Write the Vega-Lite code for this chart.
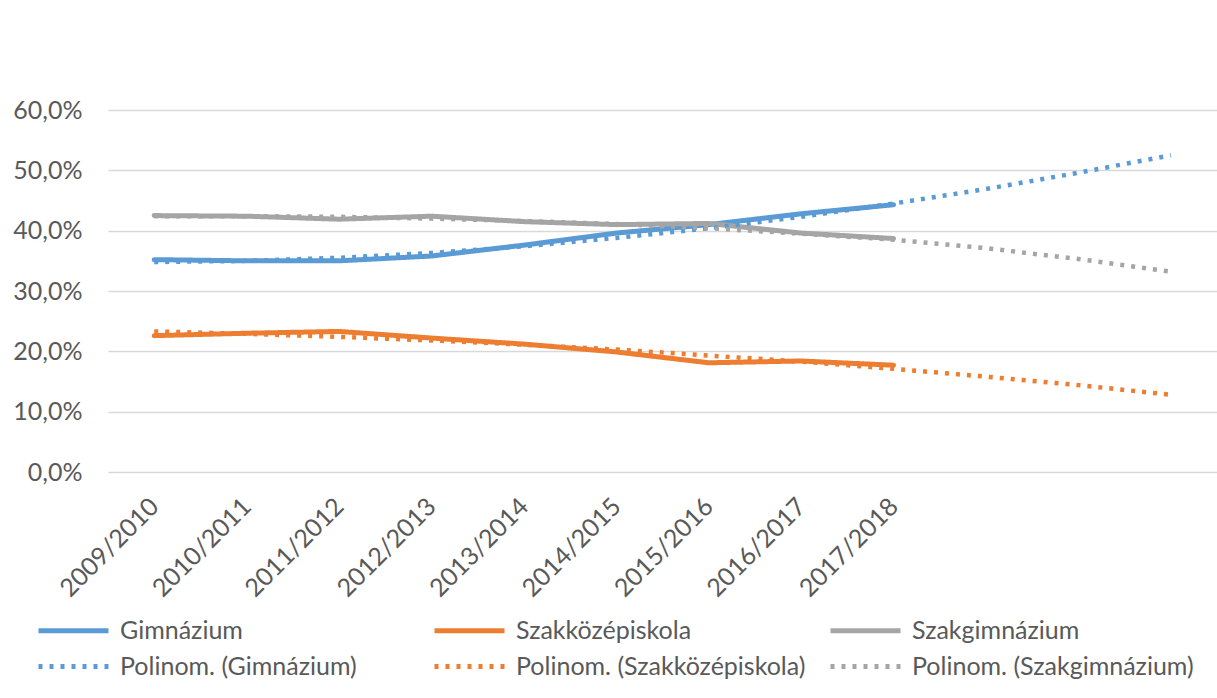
{
  "$schema": "https://vega.github.io/schema/vega-lite/v6.json",
  "autosize": "none",
  "width": 1109,
  "height": 362,
  "padding": {"left": 108, "top": 110, "right": 0, "bottom": 226},
  "background": "white",
  "config": {
    "view": {"stroke": null},
    "font": "Lato",
    "axis": {"labelFont": "Lato", "labelColor": "#595959", "labelFontSize": 25, "title": null},
    "legend": {
      "labelFont": "Lato",
      "labelFontSize": 25,
      "labelColor": "#595959",
      "symbolType": "M-3.5,0H3.5",
      "symbolSize": 400,
      "symbolStrokeWidth": 5,
      "labelOffset": 34,
      "columns": 3,
      "direction": "horizontal",
      "gridAlign": "all",
      "columnPadding": 14,
      "rowPadding": 10,
      "labelLimit": 400
    }
  },
  "layer": [
    {
      "data": {"values": [
        {"year": "2009/2010", "series": "Gimnázium", "value": 0.352},
        {"year": "2010/2011", "series": "Gimnázium", "value": 0.350},
        {"year": "2011/2012", "series": "Gimnázium", "value": 0.350},
        {"year": "2012/2013", "series": "Gimnázium", "value": 0.358},
        {"year": "2013/2014", "series": "Gimnázium", "value": 0.376},
        {"year": "2014/2015", "series": "Gimnázium", "value": 0.396},
        {"year": "2015/2016", "series": "Gimnázium", "value": 0.410},
        {"year": "2016/2017", "series": "Gimnázium", "value": 0.428},
        {"year": "2017/2018", "series": "Gimnázium", "value": 0.443},
        {"year": "2009/2010", "series": "Szakközépiskola", "value": 0.226},
        {"year": "2010/2011", "series": "Szakközépiskola", "value": 0.230},
        {"year": "2011/2012", "series": "Szakközépiskola", "value": 0.233},
        {"year": "2012/2013", "series": "Szakközépiskola", "value": 0.222},
        {"year": "2013/2014", "series": "Szakközépiskola", "value": 0.212},
        {"year": "2014/2015", "series": "Szakközépiskola", "value": 0.199},
        {"year": "2015/2016", "series": "Szakközépiskola", "value": 0.181},
        {"year": "2016/2017", "series": "Szakközépiskola", "value": 0.184},
        {"year": "2017/2018", "series": "Szakközépiskola", "value": 0.177},
        {"year": "2009/2010", "series": "Szakgimnázium", "value": 0.425},
        {"year": "2010/2011", "series": "Szakgimnázium", "value": 0.424},
        {"year": "2011/2012", "series": "Szakgimnázium", "value": 0.419},
        {"year": "2012/2013", "series": "Szakgimnázium", "value": 0.424},
        {"year": "2013/2014", "series": "Szakgimnázium", "value": 0.415},
        {"year": "2014/2015", "series": "Szakgimnázium", "value": 0.410},
        {"year": "2015/2016", "series": "Szakgimnázium", "value": 0.412},
        {"year": "2016/2017", "series": "Szakgimnázium", "value": 0.396},
        {"year": "2017/2018", "series": "Szakgimnázium", "value": 0.387}
      ]},
      "mark": {"type": "line", "strokeWidth": 5, "strokeCap": "round", "strokeJoin": "round"},
      "encoding": {
        "x": {"field": "year", "type": "ordinal"},
        "y": {"field": "value", "type": "quantitative"},
        "color": {"field": "series", "type": "nominal"},
        "strokeDash": {"field": "series", "type": "nominal"}
      }
    },
    {
      "data": {"values": [
        {"year": "2009/2010", "series": "Polinom. (Gimnázium)", "value": 0.348},
        {"year": "2010/2011", "series": "Polinom. (Gimnázium)", "value": 0.350},
        {"year": "2011/2012", "series": "Polinom. (Gimnázium)", "value": 0.355},
        {"year": "2012/2013", "series": "Polinom. (Gimnázium)", "value": 0.363},
        {"year": "2013/2014", "series": "Polinom. (Gimnázium)", "value": 0.374},
        {"year": "2014/2015", "series": "Polinom. (Gimnázium)", "value": 0.388},
        {"year": "2015/2016", "series": "Polinom. (Gimnázium)", "value": 0.404},
        {"year": "2016/2017", "series": "Polinom. (Gimnázium)", "value": 0.423},
        {"year": "2017/2018", "series": "Polinom. (Gimnázium)", "value": 0.445},
        {"year": "2018/2019", "series": "Polinom. (Gimnázium)", "value": 0.469},
        {"year": "2019/2020", "series": "Polinom. (Gimnázium)", "value": 0.496},
        {"year": "2020/2021", "series": "Polinom. (Gimnázium)", "value": 0.525},
        {"year": "2009/2010", "series": "Polinom. (Szakközépiskola)", "value": 0.233},
        {"year": "2010/2011", "series": "Polinom. (Szakközépiskola)", "value": 0.229},
        {"year": "2011/2012", "series": "Polinom. (Szakközépiskola)", "value": 0.224},
        {"year": "2012/2013", "series": "Polinom. (Szakközépiskola)", "value": 0.218},
        {"year": "2013/2014", "series": "Polinom. (Szakközépiskola)", "value": 0.211},
        {"year": "2014/2015", "series": "Polinom. (Szakközépiskola)", "value": 0.203},
        {"year": "2015/2016", "series": "Polinom. (Szakközépiskola)", "value": 0.193},
        {"year": "2016/2017", "series": "Polinom. (Szakközépiskola)", "value": 0.183},
        {"year": "2017/2018", "series": "Polinom. (Szakközépiskola)", "value": 0.171},
        {"year": "2018/2019", "series": "Polinom. (Szakközépiskola)", "value": 0.158},
        {"year": "2019/2020", "series": "Polinom. (Szakközépiskola)", "value": 0.144},
        {"year": "2020/2021", "series": "Polinom. (Szakközépiskola)", "value": 0.128},
        {"year": "2009/2010", "series": "Polinom. (Szakgimnázium)", "value": 0.424},
        {"year": "2010/2011", "series": "Polinom. (Szakgimnázium)", "value": 0.424},
        {"year": "2011/2012", "series": "Polinom. (Szakgimnázium)", "value": 0.423},
        {"year": "2012/2013", "series": "Polinom. (Szakgimnázium)", "value": 0.420},
        {"year": "2013/2014", "series": "Polinom. (Szakgimnázium)", "value": 0.416},
        {"year": "2014/2015", "series": "Polinom. (Szakgimnázium)", "value": 0.411},
        {"year": "2015/2016", "series": "Polinom. (Szakgimnázium)", "value": 0.404},
        {"year": "2016/2017", "series": "Polinom. (Szakgimnázium)", "value": 0.395},
        {"year": "2017/2018", "series": "Polinom. (Szakgimnázium)", "value": 0.385},
        {"year": "2018/2019", "series": "Polinom. (Szakgimnázium)", "value": 0.371},
        {"year": "2019/2020", "series": "Polinom. (Szakgimnázium)", "value": 0.353},
        {"year": "2020/2021", "series": "Polinom. (Szakgimnázium)", "value": 0.332}
      ]},
      "mark": {"type": "line", "strokeWidth": 4.5, "strokeCap": "butt"},
      "encoding": {
        "x": {"field": "year", "type": "ordinal"},
        "y": {"field": "value", "type": "quantitative"},
        "color": {"field": "series", "type": "nominal"},
        "strokeDash": {"field": "series", "type": "nominal"}
      }
    }
  ],
  "resolve": {"scale": {"color": "shared", "strokeDash": "shared"}},
  "encoding": {
    "x": {
      "field": "year",
      "type": "ordinal",
      "scale": {
        "type": "point",
        "padding": 0.5,
        "domain": ["2009/2010", "2010/2011", "2011/2012", "2012/2013", "2013/2014", "2014/2015", "2015/2016", "2016/2017", "2017/2018", "2018/2019", "2019/2020", "2020/2021"]
      },
      "axis": {
        "values": ["2009/2010", "2010/2011", "2011/2012", "2012/2013", "2013/2014", "2014/2015", "2015/2016", "2016/2017", "2017/2018"],
        "labelAngle": -45,
        "labelAlign": "right",
        "labelBaseline": "middle",
        "labelPadding": 30,
        "ticks": false,
        "domain": false,
        "grid": false
      }
    },
    "y": {
      "field": "value",
      "type": "quantitative",
      "scale": {"domain": [0, 0.6], "nice": false},
      "axis": {
        "values": [0, 0.1, 0.2, 0.3, 0.4, 0.5, 0.6],
        "labelExpr": "replace(format(datum.value, '.1%'), '.', ',')",
        "ticks": false,
        "domain": false,
        "grid": true,
        "gridColor": "#D9D9D9",
        "gridWidth": 1.5,
        "labelPadding": 26
      }
    },
    "color": {
      "field": "series",
      "type": "nominal",
      "scale": {
        "domain": ["Gimnázium", "Szakközépiskola", "Szakgimnázium", "Polinom. (Gimnázium)", "Polinom. (Szakközépiskola)", "Polinom. (Szakgimnázium)"],
        "range": ["#5B9BD5", "#ED7D31", "#A5A5A5", "#5B9BD5", "#ED7D31", "#A5A5A5"]
      },
      "legend": {"title": null, "orient": "none", "legendX": -47, "legendY": 508}
    },
    "strokeDash": {
      "field": "series",
      "type": "nominal",
      "scale": {
        "domain": ["Gimnázium", "Szakközépiskola", "Szakgimnázium", "Polinom. (Gimnázium)", "Polinom. (Szakközépiskola)", "Polinom. (Szakgimnázium)"],
        "range": [[1, 0], [1, 0], [1, 0], [4, 7], [4, 7], [4, 7]]
      },
      "legend": {"title": null, "orient": "none", "legendX": -47, "legendY": 508}
    }
  }
}
